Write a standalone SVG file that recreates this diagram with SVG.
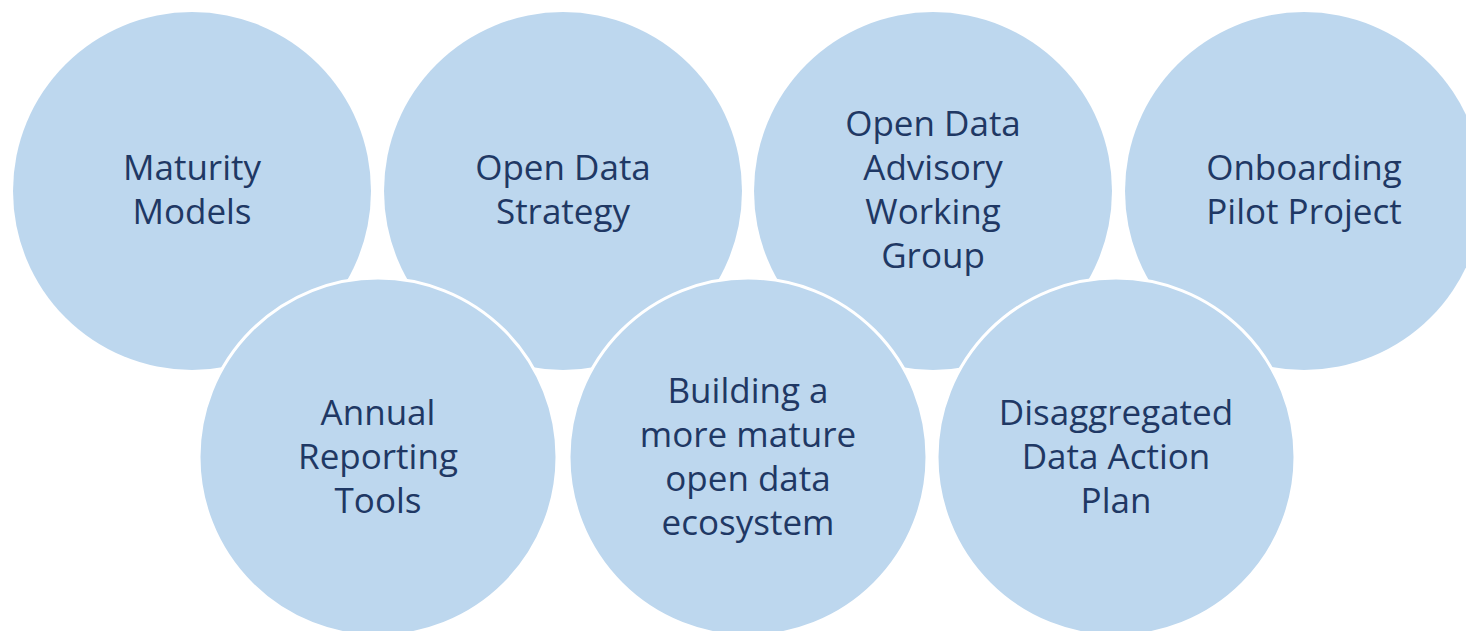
<svg xmlns="http://www.w3.org/2000/svg" width="1466" height="631" viewBox="0 0 1466 631">
<style>
.c{fill:#BDD7EE}
.b{fill:#BDD7EE;stroke:#FFFFFF;stroke-width:3}
.t{font-family:"Open Sans","Liberation Sans",sans-serif;font-size:35px;fill:#1F3864;text-anchor:middle}
</style>
<rect width="1466" height="631" fill="#FFFFFF"/>
<g id="node-maturity"><circle class="c" cx="192" cy="191" r="179"/><text class="t"><tspan x="192" y="180">Maturity</tspan><tspan x="192" y="224">Models</tspan></text></g>
<g id="node-strategy"><circle class="c" cx="563" cy="191" r="179"/><text class="t"><tspan x="563" y="180">Open Data</tspan><tspan x="563" y="224">Strategy</tspan></text></g>
<g id="node-advisory"><circle class="c" cx="933" cy="191" r="179"/><text class="t"><tspan x="933" y="136">Open Data</tspan><tspan x="933" y="180">Advisory</tspan><tspan x="933" y="224">Working</tspan><tspan x="933" y="268">Group</tspan></text></g>
<g id="node-onboarding"><circle class="c" cx="1304" cy="191" r="179"/><text class="t"><tspan x="1304" y="180">Onboarding</tspan><tspan x="1304" y="224">Pilot Project</tspan></text></g>
<g id="node-annual"><circle class="b" cx="378" cy="457" r="179"/><text class="t"><tspan x="378" y="425">Annual</tspan><tspan x="378" y="469">Reporting</tspan><tspan x="378" y="513">Tools</tspan></text></g>
<g id="node-building"><circle class="b" cx="748" cy="457" r="179"/><text class="t"><tspan x="748" y="403">Building a</tspan><tspan x="748" y="447">more mature</tspan><tspan x="748" y="491">open data</tspan><tspan x="748" y="535">ecosystem</tspan></text></g>
<g id="node-disaggregated"><circle class="b" cx="1116" cy="457" r="179"/><text class="t"><tspan x="1116" y="425">Disaggregated</tspan><tspan x="1116" y="469">Data Action</tspan><tspan x="1116" y="513">Plan</tspan></text></g>
<g id="connectors"></g>
</svg>
